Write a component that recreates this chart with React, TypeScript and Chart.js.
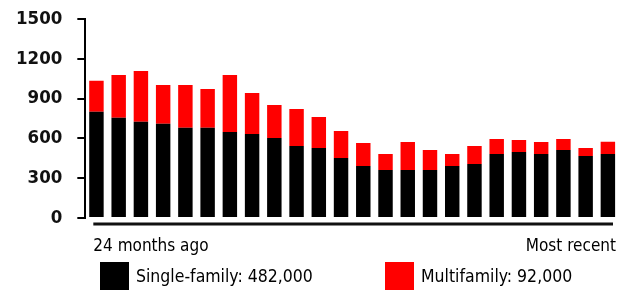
import React, { useEffect, useRef } from "react";
import { Chart, registerables } from "chart.js";

Chart.register(...registerables);

const months = [
  "M-24", "M-23", "M-22", "M-21", "M-20", "M-19", "M-18", "M-17",
  "M-16", "M-15", "M-14", "M-13", "M-12", "M-11", "M-10", "M-9",
  "M-8", "M-7", "M-6", "M-5", "M-4", "M-3", "M-2", "M-1",
];
const singleFamily = [
  800, 755, 725, 710, 680, 680, 648, 633, 603, 543, 528, 452,
  392, 362, 362, 362, 392, 407, 482, 497, 482, 513, 467, 482,
];
const multifamily = [
  235, 323, 383, 293, 323, 292, 430, 309, 249, 279, 233, 204,
  173, 120, 211, 151, 90, 136, 113, 91, 91, 82, 61, 92,
];
const edgeLabels = ["24 months ago", "Most recent"];
const seriesNames = ["Single-family: 482,000", "Multifamily: 92,000"];
const seriesColors = ["#000000", "#ff0000"];
const yMin = 0;
const yMax = 1500;
const yStep = 300;

const FONT = "'DejaVu Sans Condensed', 'DejaVu Sans', sans-serif";

const overlayPlugin = {
  id: "overlay",
  afterDraw(chart: any) {
    const { ctx, chartArea: a } = chart;
    ctx.save();
    // baseline rule under the bars
    ctx.strokeStyle = "#111111";
    ctx.lineWidth = 3;
    ctx.beginPath();
    ctx.moveTo(a.left + 8, a.bottom + 6);
    ctx.lineTo(a.right - 6, a.bottom + 6);
    ctx.stroke();

    // edge labels
    ctx.fillStyle = "#000000";
    ctx.font = `17px ${FONT}`;
    ctx.textBaseline = "alphabetic";
    ctx.textAlign = "left";
    ctx.fillText(edgeLabels[0], a.left + 8, a.bottom + 33);
    ctx.textAlign = "right";
    ctx.fillText(edgeLabels[1], a.right - 3, a.bottom + 33);

    // legend
    const boxX = [100, 385];
    ctx.font = `17.5px ${FONT}`;
    ctx.textAlign = "left";
    chart.data.datasets.forEach((ds: any, i: number) => {
      ctx.fillStyle = ds.backgroundColor;
      ctx.fillRect(boxX[i], a.bottom + 44, 29, 28);
      ctx.fillStyle = "#000000";
      ctx.fillText(ds.label, boxX[i] + 36, a.bottom + 64);
    });
    ctx.restore();
  },
};

export default function App() {
  const canvasRef = useRef<HTMLCanvasElement | null>(null);

  useEffect(() => {
    if (!canvasRef.current) return;
    const chart = new Chart(canvasRef.current, {
      type: "bar",
      data: {
        labels: months,
        datasets: [
          {
            label: seriesNames[0],
            data: singleFamily,
            backgroundColor: seriesColors[0],
            barPercentage: 0.65,
            categoryPercentage: 1,
          },
          {
            label: seriesNames[1],
            data: multifamily,
            backgroundColor: seriesColors[1],
            barPercentage: 0.65,
            categoryPercentage: 1,
          },
        ],
      },
      options: {
        animation: false,
        responsive: true,
        maintainAspectRatio: false,
        layout: { padding: { left: 1, right: 5, top: 19, bottom: 73 } },
        plugins: {
          legend: { display: false },
          tooltip: { enabled: false },
        },
        scales: {
          x: {
            stacked: true,
            display: false,
          },
          y: {
            stacked: true,
            min: yMin,
            max: yMax,
            afterFit: (scale: any) => {
              scale.paddingTop = 0;
              scale.paddingBottom = 0;
            },
            ticks: {
              stepSize: yStep,
              padding: 15,
              color: "#111111",
              font: { family: FONT, size: 18.5, weight: "bold", lineHeight: 1 },
              callback: (v: any) => String(v),
            },
            grid: {
              drawOnChartArea: false,
              drawTicks: true,
              tickLength: 8,
              color: "#000000",
              lineWidth: 2,
            },
            border: { display: true, color: "#000000", width: 2 },
          },
        },
      },
      plugins: [overlayPlugin],
    });
    return () => chart.destroy();
  }, []);

  return (
    <div style={{ position: "absolute", left: 0, top: 0, width: 624, height: 291, background: "#ffffff" }}>
      <canvas ref={canvasRef} />
    </div>
  );
}
